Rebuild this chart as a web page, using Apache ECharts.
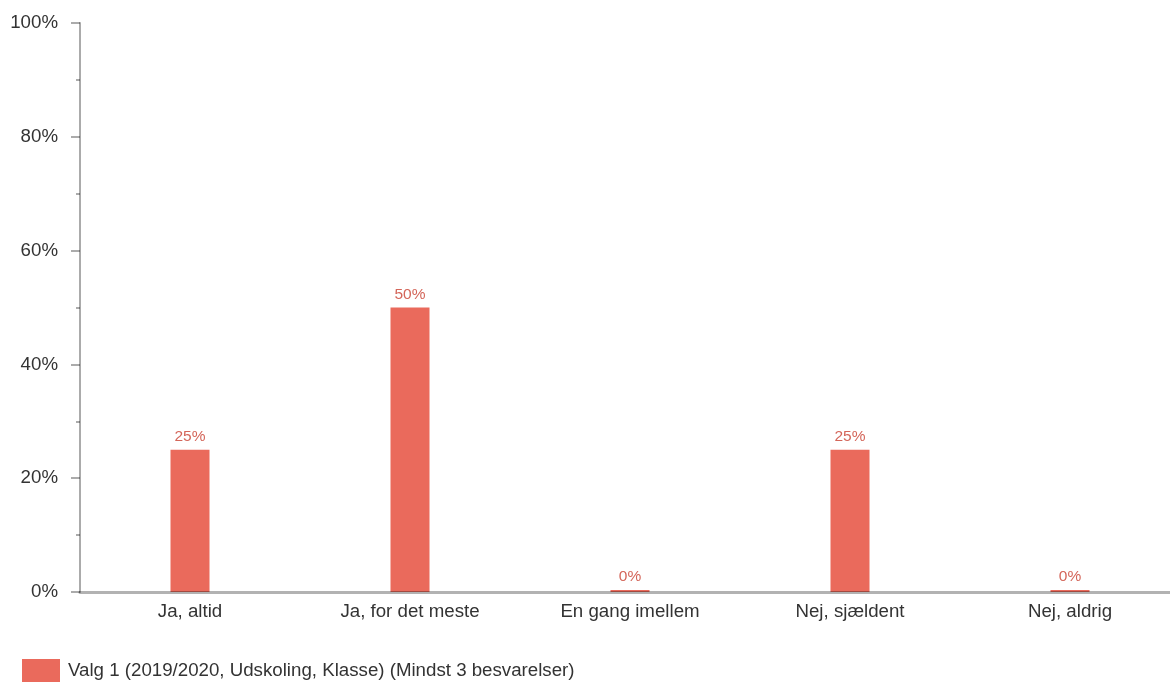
<!DOCTYPE html>
<html><head><meta charset="utf-8">
<script src="https://cdn.jsdelivr.net/npm/echarts@6/dist/echarts.min.js"></script>
<style>html,body{margin:0;padding:0;background:#fff;overflow:hidden}#c{width:1181px;height:682px}</style>
</head><body><div id="c"></div>
<script>
const categories = ['Ja, altid', 'Ja, for det meste', 'En gang imellem', 'Nej, sjældent', 'Nej, aldrig'];
const values = [25, 50, 0, 25, 0];
const seriesName = 'Valg 1 (2019/2020, Udskoling, Klasse) (Mindst 3 besvarelser)';
const chart = echarts.init(document.getElementById('c'));
chart.setOption({
  animation: false,
  grid: { left: 80, top: 23, right: 1, bottom: 90, containLabel: false },
  legend: {
    left: 22, top: 659, itemWidth: 38, itemHeight: 23, itemGap: 10, padding: 0,
    textStyle: { fontFamily: 'Liberation Sans, Arial', fontSize: 18.7, color: '#333', padding: [0, 0, 0, 3] },
    data: [{ name: seriesName, icon: 'rect' }]
  },
  xAxis: {
    type: 'category', data: categories, z: 10,
    axisLine: { lineStyle: { color: 'rgba(0,0,0,0.3)', width: 3 } },
    axisTick: { show: false },
    axisLabel: { fontFamily: 'Liberation Sans, Arial', fontSize: 18.7, color: '#333', margin: 10 }
  },
  yAxis: {
    type: 'value', min: 0, max: 100, interval: 20,
    axisLine: { show: true, lineStyle: { color: 'rgba(0,0,0,0.33)', width: 2 } },
    axisTick: { show: true, length: 9, lineStyle: { color: 'rgba(0,0,0,0.33)', width: 2 } },
    minorTick: { show: true, splitNumber: 2, length: 4, lineStyle: { color: 'rgba(0,0,0,0.33)', width: 2 } },
    splitLine: { show: false },
    axisLabel: { formatter: '{value}%', fontFamily: 'Liberation Sans, Arial', fontSize: 18.7, color: '#333', margin: 22 }
  },
  series: [{
    name: seriesName, type: 'bar', data: values, barWidth: 39, barMinHeight: 2, z: 2,
    itemStyle: { color: '#EA6A5C' },
    label: { show: true, position: 'top', distance: 5, formatter: '{c}%', fontFamily: 'Liberation Sans, Arial', fontSize: 15.5, color: '#D4665A' }
  }]
});
</script></body></html>
